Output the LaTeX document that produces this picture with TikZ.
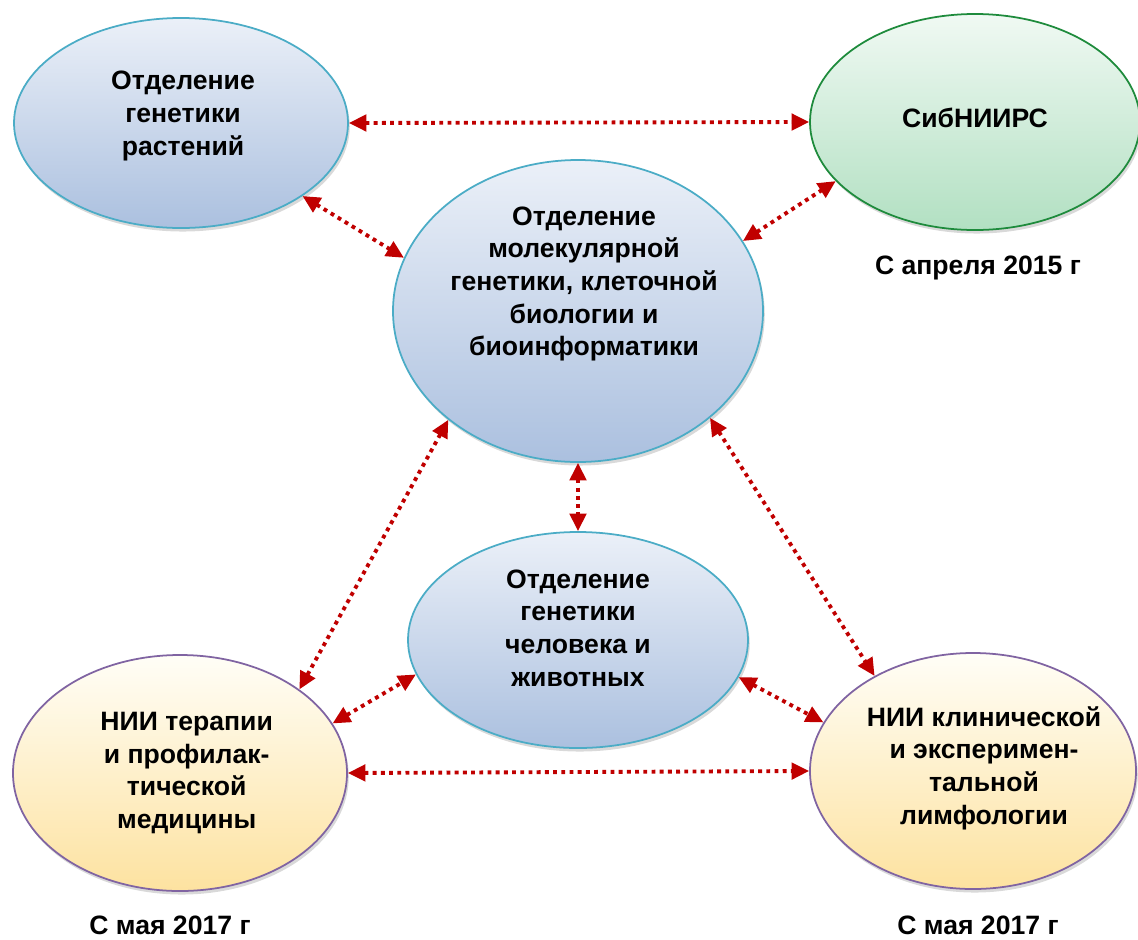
\documentclass[tikz,border=0pt]{standalone}
\usepackage{fontspec}
\setmainfont{Liberation Sans}
\usepackage{tikz}
\usetikzlibrary{arrows.meta,shapes,positioning,shadows}
\usepackage{xcolor}
\definecolor{lnkred}{RGB}{192,0,0}
\definecolor{blueline}{RGB}{75,172,198}
\definecolor{greenline}{RGB}{30,139,60}
\definecolor{violetline}{RGB}{128,100,162}
\definecolor{bluetop}{RGB}{235,240,248}
\definecolor{bluebot}{RGB}{171,192,223}
\definecolor{greentop}{RGB}{240,249,243}
\definecolor{greenbot}{RGB}{178,224,194}
\definecolor{yellowtop}{RGB}{255,254,247}
\definecolor{yellowbot}{RGB}{253,226,160}
\tikzstyle{link} = [lnkred, line width=3.3pt, dash pattern=on 3.3pt off 3.7pt, {Triangle[length=15pt,width=14pt]}-{Triangle[length=15pt,width=14pt]}]
\tikzstyle{oval} = [ellipse, line width=1.5pt, drop shadow={shadow xshift=1.5pt, shadow yshift=-3pt, opacity=0.3}]
\tikzstyle{bluebox} = [oval, draw=blueline, top color=bluetop, bottom color=bluebot]
\tikzstyle{greenbox} = [oval, draw=greenline, top color=greentop, bottom color=greenbot]
\tikzstyle{yellowbox} = [oval, draw=violetline, top color=yellowtop, bottom color=yellowbot]
\tikzstyle{lbl} = [font=\fontsize{22.7}{27.8}\selectfont\bfseries, align=center, text=black]

\begin{document}
\begin{tikzpicture}[x=0.03cm, y=-0.03cm]
\useasboundingbox (0,0) rectangle (1138,939);

% Top row
\node[bluebox, minimum width=10.02cm, minimum height=6.3cm,
  label={[lbl, xshift=0.06cm, yshift=0.21cm]center:{Отделение\\генетики\\растений}}] (gen) at (181,123) {};
\node[greenbox, minimum width=9.9cm, minimum height=6.48cm,
  label={[lbl, yshift=0.12cm]center:{СибНИИРС}}] (sib) at (975,122) {};
\node[lbl] (sibdate) at (978,268) {С апреля 2015 г};

% Centre
\node[bluebox, minimum width=11.1cm, minimum height=9.06cm,
  label={[lbl, xshift=0.18cm, yshift=0.81cm]center:{Отделение\\молекулярной\\генетики, клеточной\\биологии и\\биоинформатики}}] (mol) at (578,311) {};
\node[bluebox, minimum width=10.2cm, minimum height=6.48cm,
  label={[lbl, yshift=0.36cm]center:{Отделение\\генетики\\человека и\\животных}}] (chel) at (578,640) {};

% Bottom row
\node[yellowbox, minimum width=10.02cm, minimum height=7.08cm,
  label={[lbl, xshift=0.2cm]center:{НИИ терапии\\и профилак-\\тической\\медицины}}] (ter) at (180,773) {};
\node[yellowbox, minimum width=9.78cm, minimum height=7.08cm,
  label={[lbl, xshift=0.33cm, yshift=0.09cm]center:{НИИ клинической\\и эксперимен-\\тальной\\лимфологии}}] (lim) at (973,771) {};
\node[lbl] (terdate) at (170,925) {С мая 2017 г};
\node[lbl] (limdate) at (978,925) {С мая 2017 г};

% Links
\draw[link] (gen.east) -- (sib.west);
\draw[link] (gen.-31) -- (mol.163);
\draw[link] (mol.23) -- (sib.-157);
\draw[link] (mol.south) -- (chel.north);
\draw[link] (mol.-140) -- (ter.35);
\draw[link] (mol.-39) -- (lim.136);
\draw[link] (ter.18) -- (chel.-168);
\draw[link] (chel.-13) -- (lim.162);
\draw[link] (ter.east) -- (lim.west);
\end{tikzpicture}
\end{document}
